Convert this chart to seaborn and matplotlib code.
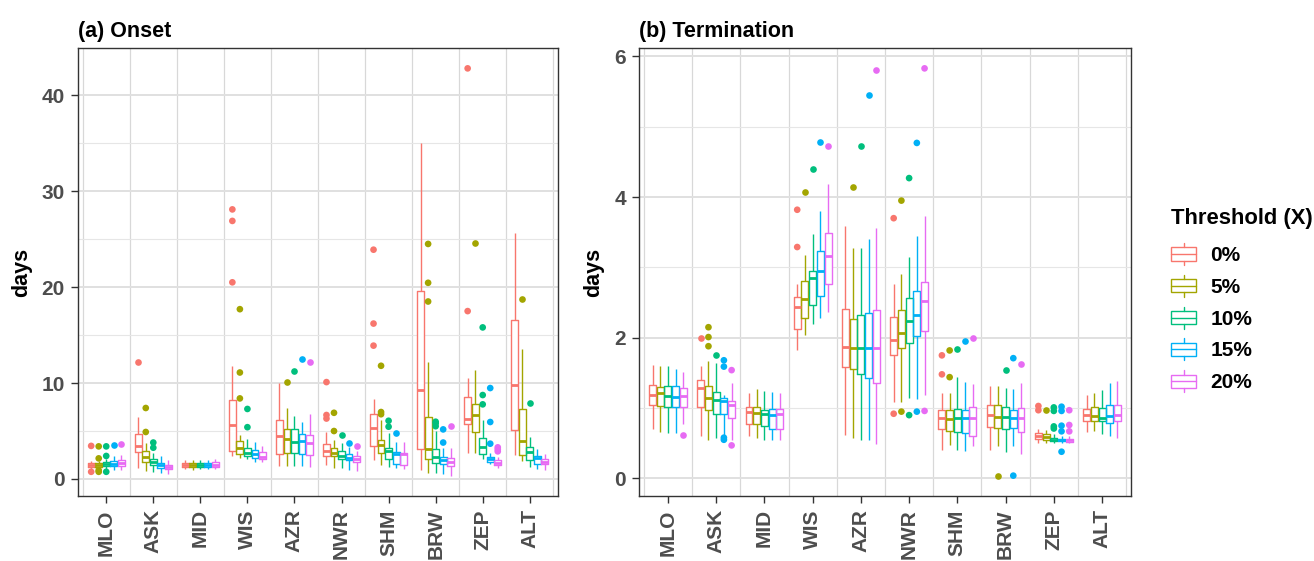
import numpy as np
import pandas as pd
import matplotlib
matplotlib.use('Agg')
import matplotlib.pyplot as plt
from matplotlib.legend_handler import HandlerBase
from matplotlib.lines import Line2D
from matplotlib.patches import Rectangle
from matplotlib.ticker import MultipleLocator, FixedLocator
import seaborn as sns

STATIONS = ['MLO', 'ASK', 'MID', 'WIS', 'AZR', 'NWR', 'SHM', 'BRW', 'ZEP', 'ALT']
THRESHOLDS = ['0%', '5%', '10%', '15%', '20%']
COLORS = ['#F8766D', '#A3A500', '#00BF7D', '#00B0F6', '#E76BF3']

# (a) onset, five-number summaries per station (rows) and threshold (cols)
ONSET_LO = [[1.0, 1.0, 1.0, 0.9, 0.9], [1.1, 0.83, 0.7, 0.6, 0.55], [1.0, 0.95, 1.0, 1.0, 1.05],
            [2.4, 2.2, 2.05, 1.8, 1.8], [1.35, 1.35, 1.35, 1.35, 1.3], [1.42, 1.18, 1.1, 0.94, 0.87],
            [2.0, 1.46, 1.2, 1.1, 1.0], [0.9, 0.66, 0.6, 0.52, 0.35], [2.74, 2.74, 2.05, 1.6, 1.15],
            [2.5, 1.87, 1.2, 1.0, 0.9]]
ONSET_Q1 = [[1.3, 1.3, 1.35, 1.35, 1.4], [2.8, 1.8, 1.5, 1.18, 1.0], [1.3, 1.3, 1.3, 1.3, 1.3],
            [2.9, 2.6, 2.4, 2.2, 2.05], [2.57, 2.74, 2.74, 2.57, 2.5], [2.4, 2.35, 2.05, 1.95, 1.77],
            [3.44, 2.67, 2.1, 1.6, 1.42], [3.1, 2.05, 1.7, 1.53, 1.35], [5.73, 4.86, 2.6, 1.77, 1.42],
            [5.1, 2.53, 1.95, 1.6, 1.53]]
ONSET_MED = [[1.5, 1.5, 1.55, 1.6, 1.7], [3.47, 2.3, 1.77, 1.5, 1.2], [1.5, 1.5, 1.5, 1.5, 1.5],
             [5.66, 3.2, 2.74, 2.6, 2.3], [4.48, 4.2, 3.9, 4.0, 3.8], [2.95, 2.67, 2.43, 2.2, 2.08],
             [5.35, 3.54, 2.95, 2.64, 2.57], [9.3, 3.1, 2.33, 1.98, 1.74], [6.3, 6.67, 3.3, 2.1, 1.7],
             [9.76, 3.96, 2.78, 2.15, 1.77]]
ONSET_Q3 = [[1.7, 1.7, 1.8, 1.9, 2.0], [4.7, 2.95, 2.1, 1.7, 1.46], [1.7, 1.7, 1.65, 1.7, 1.75],
            [8.2, 4.0, 3.26, 3.05, 2.8], [6.2, 5.17, 5.2, 4.65, 4.6], [3.65, 3.2, 2.9, 2.57, 2.4],
            [6.77, 4.06, 3.2, 2.85, 2.74], [19.55, 6.42, 3.1, 2.33, 2.15], [8.54, 7.78, 4.24, 2.33, 1.95],
            [16.6, 7.3, 3.3, 2.4, 2.1]]
ONSET_HI = [[1.9, 1.9, 2.1, 2.4, 2.5], [6.5, 3.7, 2.7, 2.4, 2.0], [2.0, 2.0, 1.95, 2.0, 2.05],
            [11.8, 4.55, 4.2, 3.9, 3.4], [10.0, 7.4, 6.6, 5.97, 6.8], [4.9, 4.1, 3.8, 3.37, 2.9],
            [8.33, 6.15, 4.8, 3.85, 3.85], [35.0, 12.2, 5.0, 3.2, 3.2], [10.5, 11.35, 6.2, 2.7, 2.33],
            [25.6, 13.6, 4.4, 3.1, 2.57]]
ONSET_OUTLIERS = [
    ('MLO', '0%', 3.45), ('MLO', '0%', 0.75), ('MLO', '5%', 3.4), ('MLO', '5%', 2.15),
    ('MLO', '5%', 0.9), ('MLO', '5%', 0.75), ('MLO', '10%', 3.4), ('MLO', '10%', 2.4),
    ('MLO', '10%', 0.75), ('MLO', '15%', 3.5), ('MLO', '20%', 3.6),
    ('ASK', '0%', 12.15), ('ASK', '5%', 7.4), ('ASK', '5%', 4.9), ('ASK', '10%', 3.8), ('ASK', '10%', 3.26),
    ('WIS', '0%', 28.1), ('WIS', '0%', 26.9), ('WIS', '0%', 20.5), ('WIS', '5%', 17.7),
    ('WIS', '5%', 11.1), ('WIS', '5%', 8.4), ('WIS', '10%', 7.3), ('WIS', '10%', 5.4),
    ('AZR', '5%', 10.1), ('AZR', '10%', 11.25), ('AZR', '15%', 12.5), ('AZR', '20%', 12.15),
    ('NWR', '0%', 10.1), ('NWR', '0%', 6.67), ('NWR', '0%', 6.3), ('NWR', '5%', 6.9), ('NWR', '5%', 5.0),
    ('NWR', '10%', 4.6), ('NWR', '15%', 3.8), ('NWR', '20%', 3.44),
    ('SHM', '0%', 23.9), ('SHM', '0%', 16.2), ('SHM', '0%', 13.9), ('SHM', '5%', 11.8),
    ('SHM', '5%', 6.98), ('SHM', '5%', 6.75), ('SHM', '10%', 6.07), ('SHM', '10%', 5.45), ('SHM', '15%', 4.8),
    ('BRW', '5%', 24.5), ('BRW', '5%', 20.45), ('BRW', '5%', 18.5), ('BRW', '10%', 5.97),
    ('BRW', '10%', 5.8), ('BRW', '10%', 5.5), ('BRW', '15%', 5.17), ('BRW', '15%', 3.8), ('BRW', '20%', 5.48),
    ('ZEP', '0%', 42.8), ('ZEP', '0%', 17.5), ('ZEP', '5%', 24.6), ('ZEP', '10%', 15.8),
    ('ZEP', '10%', 8.75), ('ZEP', '10%', 7.78), ('ZEP', '15%', 9.48), ('ZEP', '15%', 5.94),
    ('ZEP', '15%', 3.68), ('ZEP', '20%', 3.3), ('ZEP', '20%', 3.1), ('ZEP', '20%', 2.88),
    ('ALT', '5%', 18.75), ('ALT', '10%', 7.95),
]

# (b) termination
TERM_LO = [[0.70, 0.66, 0.64, 0.65, 0.78], [0.60, 0.55, 0.57, 0.62, 0.55], [0.60, 0.58, 0.54, 0.54, 0.54],
           [1.83, 2.04, 2.20, 2.28, 2.36], [0.62, 0.58, 0.55, 0.55, 0.49], [1.08, 1.08, 1.15, 1.13, 1.19],
           [0.40, 0.48, 0.41, 0.39, 0.46], [0.40, 0.46, 0.37, 0.46, 0.35], [0.50, 0.50, 0.50, 0.50, 0.50],
           [0.66, 0.67, 0.63, 0.61, 0.58]]
TERM_Q1 = [[1.04, 1.03, 1.02, 1.02, 1.02], [1.02, 0.97, 0.92, 0.92, 0.86], [0.77, 0.77, 0.74, 0.71, 0.71],
           [2.13, 2.28, 2.47, 2.59, 2.77], [1.58, 1.55, 1.49, 1.43, 1.35], [1.75, 1.86, 1.93, 2.03, 2.10],
           [0.70, 0.68, 0.66, 0.64, 0.60], [0.73, 0.72, 0.70, 0.72, 0.66], [0.56, 0.55, 0.53, 0.53, 0.52],
           [0.81, 0.82, 0.81, 0.79, 0.81]]
TERM_MED = [[1.18, 1.21, 1.17, 1.16, 1.17], [1.29, 1.15, 1.11, 1.10, 1.04], [0.95, 0.93, 0.91, 0.90, 0.92],
            [2.44, 2.55, 2.85, 2.95, 3.16], [1.87, 1.85, 1.85, 1.86, 1.85], [1.97, 2.07, 2.24, 2.32, 2.52],
            [0.86, 0.85, 0.86, 0.86, 0.86], [0.90, 0.87, 0.87, 0.86, 0.86], [0.60, 0.59, 0.55, 0.55, 0.55],
            [0.90, 0.89, 0.86, 0.89, 0.90]]
TERM_Q3 = [[1.33, 1.30, 1.32, 1.32, 1.29], [1.40, 1.31, 1.23, 1.14, 1.10], [1.02, 1.02, 0.98, 0.99, 0.99],
           [2.58, 2.81, 2.95, 3.24, 3.49], [2.41, 2.26, 2.32, 2.35, 2.39], [2.29, 2.40, 2.57, 2.66, 2.79],
           [0.97, 0.97, 0.99, 0.98, 1.02], [1.04, 1.04, 1.01, 0.98, 1.00], [0.64, 0.63, 0.58, 0.56, 0.56],
           [0.99, 1.01, 1.00, 1.04, 1.05]]
TERM_HI = [[1.61, 1.60, 1.60, 1.55, 1.52], [1.60, 1.67, 1.64, 1.19, 1.36], [1.21, 1.27, 1.25, 1.23, 1.22],
           [2.76, 3.18, 3.47, 3.80, 4.19], [3.59, 3.27, 3.27, 3.40, 3.56], [2.76, 2.91, 3.15, 3.45, 3.73],
           [1.21, 1.21, 1.44, 1.37, 1.34], [1.32, 1.32, 1.29, 1.27, 1.36], [0.71, 0.69, 0.63, 0.60, 0.60],
           [1.18, 1.22, 1.26, 1.35, 1.39]]
TERM_OUTLIERS = [
    ('MLO', '20%', 0.62),
    ('ASK', '0%', 2.0), ('ASK', '5%', 2.15), ('ASK', '5%', 2.01), ('ASK', '5%', 1.88), ('ASK', '10%', 1.75),
    ('ASK', '15%', 1.68), ('ASK', '15%', 1.59), ('ASK', '15%', 0.58), ('ASK', '15%', 0.55),
    ('ASK', '20%', 1.54), ('ASK', '20%', 0.47),
    ('WIS', '0%', 3.82), ('WIS', '0%', 3.29), ('WIS', '5%', 4.07), ('WIS', '10%', 4.40),
    ('WIS', '15%', 4.79), ('WIS', '20%', 4.73),
    ('AZR', '5%', 4.15), ('AZR', '10%', 4.72), ('AZR', '15%', 5.45), ('AZR', '20%', 5.81),
    ('NWR', '0%', 3.70), ('NWR', '0%', 0.92), ('NWR', '5%', 3.95), ('NWR', '5%', 0.95),
    ('NWR', '10%', 4.27), ('NWR', '10%', 0.90), ('NWR', '15%', 4.77), ('NWR', '15%', 0.95),
    ('NWR', '20%', 5.83), ('NWR', '20%', 0.96),
    ('SHM', '0%', 1.75), ('SHM', '0%', 1.48), ('SHM', '5%', 1.82), ('SHM', '5%', 1.44),
    ('SHM', '10%', 1.84), ('SHM', '15%', 1.95), ('SHM', '20%', 2.0),
    ('BRW', '5%', 0.04), ('BRW', '10%', 1.54), ('BRW', '15%', 1.71), ('BRW', '15%', 0.04), ('BRW', '20%', 1.63),
    ('ZEP', '0%', 1.03), ('ZEP', '0%', 0.97), ('ZEP', '5%', 0.98), ('ZEP', '10%', 1.01),
    ('ZEP', '10%', 0.96), ('ZEP', '10%', 0.74), ('ZEP', '10%', 0.71), ('ZEP', '15%', 1.02),
    ('ZEP', '15%', 0.96), ('ZEP', '15%', 0.75), ('ZEP', '15%', 0.67), ('ZEP', '15%', 0.38),
    ('ZEP', '20%', 0.97), ('ZEP', '20%', 0.76), ('ZEP', '20%', 0.67),
]

PAL = dict(zip(THRESHOLDS, COLORS))
TEXT_GREY = '#4D4D4D'
BORDER = '#333333'


def box_frame(lo, q1, med, q3, hi):
    # five points per box -> quartiles land exactly on q1/med/q3
    rows = []
    for i, st in enumerate(STATIONS):
        for j, th in enumerate(THRESHOLDS):
            for v in (lo[i][j], q1[i][j], med[i][j], q3[i][j], hi[i][j]):
                rows.append((st, th, v))
    return pd.DataFrame(rows, columns=['station', 'threshold', 'value'])


class BoxKey(HandlerBase):
    def create_artists(self, legend, orig_handle, xdescent, ydescent, width, height, fontsize, trans):
        c = orig_handle.get_color()
        x0, y0 = -xdescent, -ydescent
        bh = height * 0.6
        by = y0 + (height - bh) / 2
        xm = x0 + width / 2
        box = Rectangle((x0, by), width, bh, facecolor='white', edgecolor=c, lw=1.0, transform=trans)
        med = Line2D([x0, x0 + width], [y0 + height / 2] * 2, color=c, lw=1.0, transform=trans)
        top = Line2D([xm, xm], [by + bh, y0 + height], color=c, lw=1.0, transform=trans)
        bot = Line2D([xm, xm], [y0, by], color=c, lw=1.0, transform=trans)
        return [box, med, top, bot]


def draw_panel(ax, boxes, outliers, title, major, minor):
    common = dict(x='station', y='value', hue='threshold', order=STATIONS, hue_order=THRESHOLDS, ax=ax)
    # white fill underneath so grid lines do not show through the boxes
    sns.boxplot(data=boxes, **common, palette=dict.fromkeys(THRESHOLDS, 'white'), fill=True,
                width=0.8, gap=0.1, whis=(0, 100), showfliers=False, showcaps=False,
                linewidth=0, legend=False)
    sns.boxplot(data=boxes, **common, palette=PAL, fill=False, width=0.8, gap=0.1,
                whis=(0, 100), showfliers=False, showcaps=False, linewidth=1.0,
                medianprops={'linewidth': 2.0}, legend=False)
    out = pd.DataFrame(outliers, columns=['station', 'threshold', 'value'])
    sns.stripplot(data=out, **common, palette=PAL, dodge=True, jitter=False, size=4.8,
                  linewidth=0, legend=False, zorder=4)

    allv = np.concatenate([boxes['value'].values, out['value'].values])
    span = allv.max() - allv.min()
    ax.set_ylim(allv.min() - 0.05 * span, allv.max() + 0.05 * span)
    ax.set_xlim(-0.6, len(STATIONS) - 0.4)

    ax.yaxis.set_major_locator(MultipleLocator(major))
    ax.yaxis.set_minor_locator(MultipleLocator(minor))
    ax.xaxis.set_minor_locator(FixedLocator(np.arange(-0.5, len(STATIONS), 1.0)))
    ax.set_axisbelow(True)
    ax.grid(True, axis='y', which='major', color='#E0E0E0', lw=1.4)
    ax.grid(True, axis='y', which='minor', color='#E6E6E6', lw=0.8)
    ax.grid(True, axis='x', which='minor', color='#D8D8D8', lw=0.9)
    ax.grid(False, axis='x', which='major')

    ax.tick_params(axis='both', which='major', direction='out', length=5, width=1.0,
                   color=BORDER, labelsize=15, labelcolor=TEXT_GREY, pad=4.5,
                   bottom=True, left=True)
    ax.tick_params(axis='both', which='minor', length=0)
    ax.tick_params(axis='x', labelrotation=90)
    for s in ax.spines.values():
        s.set_visible(True)
        s.set_color(BORDER)
        s.set_linewidth(1.0)

    ax.set_xlabel('')
    ax.set_ylabel('days', fontsize=15.5, fontweight='bold', labelpad=7, color='black')
    ax.set_title(title, loc='left', fontsize=15.5, fontweight='bold', pad=8, color='black')


def main():
    sns.set_theme(style='white')
    plt.rcParams['font.family'] = ['Liberation Sans', 'DejaVu Sans']
    plt.rcParams['font.weight'] = 'bold'
    plt.rcParams['text.color'] = 'black'

    fig = plt.figure(figsize=(13.14, 5.61), dpi=100)
    ax1 = fig.add_axes([78 / 1314, 65 / 561, 480 / 1314, 448 / 561])
    ax2 = fig.add_axes([639 / 1314, 65 / 561, 492 / 1314, 448 / 561])

    draw_panel(ax1, box_frame(ONSET_LO, ONSET_Q1, ONSET_MED, ONSET_Q3, ONSET_HI),
               ONSET_OUTLIERS, '(a) Onset', 10, 5)
    draw_panel(ax2, box_frame(TERM_LO, TERM_Q1, TERM_MED, TERM_Q3, TERM_HI),
               TERM_OUTLIERS, '(b) Termination', 2, 1)

    handles = [Line2D([], [], color=c) for c in COLORS]
    leg = fig.legend(handles, THRESHOLDS, handler_map={Line2D: BoxKey()}, loc='upper left',
                     bbox_to_anchor=(1171 / 1314, 1 - 208 / 561), frameon=False,
                     title='Threshold (X)', prop={'weight': 'bold', 'size': 15},
                     title_fontproperties={'weight': 'bold', 'size': 15.8}, alignment='left',
                     handlelength=1.2, handleheight=1.25, labelspacing=0.47, handletextpad=0.7,
                     borderpad=0, borderaxespad=0)
    leg._legend_box.sep = 10
    for t in leg.get_texts():
        t.set_color('black')
    leg.get_title().set_color('black')

    fig.savefig('out.png', dpi=100, facecolor='white')


if __name__ == '__main__':
    main()
